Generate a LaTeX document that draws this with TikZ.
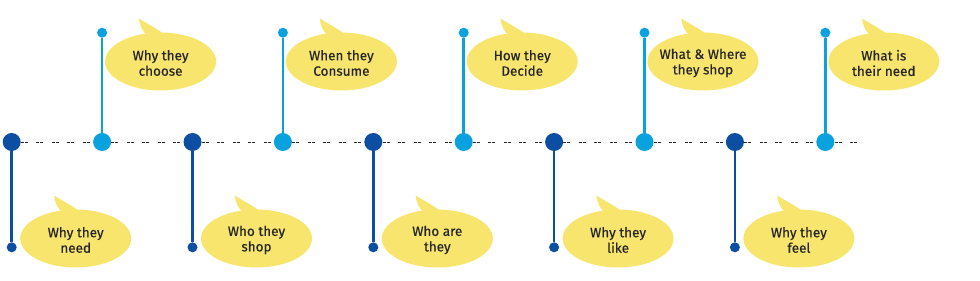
\documentclass[tikz,border=0pt]{standalone}
\usepackage{fontspec}
\setmainfont{Fira Sans}
\newfontfamily\bubblefont{Fira Sans}[FakeBold=0.5]
\usepackage{xcolor}
\usetikzlibrary{positioning, calc}

\definecolor{darkblue}{HTML}{0B4EA2}
\definecolor{lightblue}{HTML}{0AA2DE}
\definecolor{bubblefill}{HTML}{F8E56E}

\tikzset{
  bigdot/.style={circle, inner sep=0pt, minimum size=18pt},
  enddot/.style={circle, inner sep=0pt, minimum size=10pt},
  stem/.style={line width=2.6pt},
  timeline/.style={line width=1pt, black!85, dash pattern=on 3pt off 1pt on 3pt off 8.5pt},
  bubble/.style={inner sep=0pt, font=\bubblefont\fontsize{13.5}{15.5}\selectfont,
                 text=black!85, align=center}
}

\begin{document}
\begin{tikzpicture}[x=1pt, y=-1pt]
  \useasboundingbox (0,0) rectangle (980,281);

  % Dots on the timeline (dark = below, light = above)
  \foreach \i in {0,2,...,8} {
    \node[bigdot, fill=darkblue] (d\i) at (11.7+90.4*\i, 142) {};
    \node[enddot, fill=darkblue] (e\i) at (11.7+90.4*\i, 247.3) {};
    \draw[stem, darkblue] (d\i) -- (e\i);
  }
  \foreach \i in {1,3,...,9} {
    \node[bigdot, fill=lightblue] (d\i) at (11.7+90.4*\i, 142) {};
    \node[enddot, fill=lightblue] (e\i) at (11.7+90.4*\i, 32.7) {};
    \draw[stem, lightblue] (d\i) -- (e\i);
  }

  % Dashed timeline between the dots
  \coordinate (tend) at (858,142);
  \foreach \i [evaluate=\i as \j using int(\i+1)] in {0,...,8} {
    \draw[timeline] (d\i) -- (d\j);
  }
  \draw[timeline] (d9) -- (tend);

  % Speech bubbles below
  \foreach \i/\txt in {0/{Why they\\need}, 2/{Who they\\shop}, 4/{Who are\\they},
                       6/{Why they\\like}, 8/{Why they\\feel}} {
    \fill[bubblefill] (75.7+90.4*\i, 238.5) ellipse [x radius=55.5, y radius=29];
    \node[bubble] (b\i) at (75.7+90.4*\i, 238.5) {};
    \node[bubble, yshift=-1.5pt] at (b\i) {\txt};
  }
  % Speech bubbles above
  \foreach \i/\txt in {1/{Why they\\choose}, 3/{When they\\Consume}, 5/{How they\\Decide},
                       7/{What \& Where\\they shop}, 9/{What is\\their need}} {
    \fill[bubblefill] (70.2+90.4*\i, 61.5) ellipse [x radius=55.5, y radius=29];
    \node[bubble] (b\i) at (70.2+90.4*\i, 61.5) {};
    \node[bubble, yshift=-1.5pt] at (b\i) {\txt};
  }

  % Tails of the bubbles
  \foreach \i in {0,...,9} {
    \fill[bubblefill] ($(b\i)+(-12.7,-26)$) .. controls ($(b\i)+(-18,-29)$) and ($(b\i)+(-21,-36)$)
      .. ($(b\i)+(-21.7,-43)$) .. controls ($(b\i)+(-12,-37)$) and ($(b\i)+(-4,-33)$)
      .. ($(b\i)+(4,-27)$) -- cycle;
  }
\end{tikzpicture}
\end{document}
